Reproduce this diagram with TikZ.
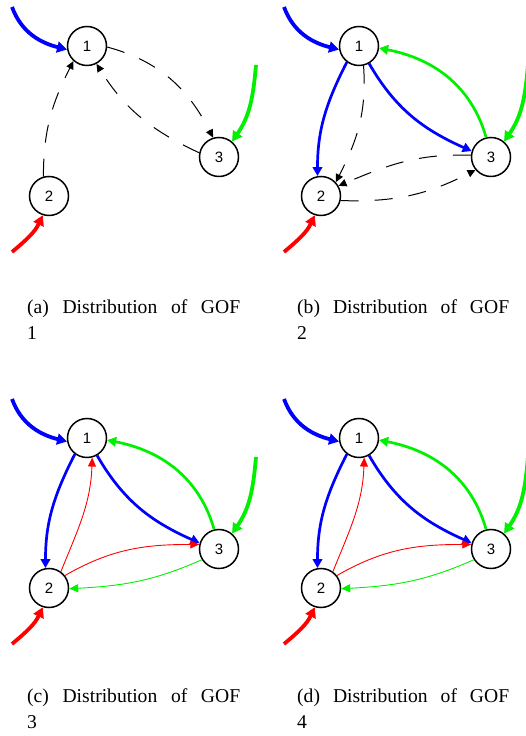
\documentclass[tikz,border=0pt]{standalone}
\usepackage{fontspec}
\setmainfont{Liberation Serif}
\newfontfamily\gofsans{Liberation Sans}
\usetikzlibrary{arrows.meta,calc}
\definecolor{gblue}{RGB}{0,0,255}
\definecolor{ggreen}{RGB}{0,240,0}
\definecolor{gred}{RGB}{255,0,0}
\tikzset{
  stnode/.style={circle, draw=black, line width=1.5pt, minimum size=39pt, inner sep=0pt,
    font=\gofsans\fontsize{15}{16}\selectfont},
  inarr/.style={line width=3.8pt, -{Triangle[length=10pt,width=11pt]}},
  thickarr/.style={line width=2.7pt, -{Triangle[length=9pt,width=9.5pt]}},
  thinarr/.style={line width=0.9pt, -{Triangle[length=9pt,width=8pt]}},
  dasharr/.style={line width=1pt, black, dash pattern=on 18pt off 16pt,
    -{Triangle[length=8pt,width=7.5pt]}},
  gofcap/.style={anchor=base west, inner sep=0pt, font=\fontsize{19.6}{24}\selectfont},
}
\newcommand\gofbase[3]{%
  \begin{scope}[shift={(#2,#3)}]
    \node[stnode] (#1n1) at (87,690) {1};
    \node[stnode] (#1n2) at (49,540) {2};
    \node[stnode] (#1n3) at (219,579) {3};
  \end{scope}
  \coordinate (#1bs) at ($(#1n1)+(-75,39)$);
  \coordinate (#1gs) at ($(#1n3)+(37,92)$);
  \coordinate (#1rs) at ($(#1n2)+(-37,-56)$);
  \draw[inarr, gblue] (#1bs) to[out=-70, in=166] (#1n1.190);
  \draw[inarr, ggreen] (#1gs) to[out=-95, in=55] (#1n3.50);
  \draw[inarr, gred] (#1rs) to[out=40, in=-115] (#1n2.252);
}
\newcommand\gofthick[1]{%
  \draw[thickarr, gblue] (#1n1.233) to[out=243, in=90] (#1n2.100);
  \draw[thickarr, gblue] (#1n1.300) to[out=-60, in=156] (#1n3.163);
  \draw[thickarr, ggreen] (#1n3.104) to[out=106, in=-11] (#1n1.-6);
}
\newcommand\gofthin[1]{%
  \draw[thinarr, gred] (#1n2.54) to[out=68, in=268] (#1n1.285);
  \draw[thinarr, gred] (#1n2.38) to[out=30, in=180] (#1n3.167);
  \draw[thinarr, ggreen] (#1n3.212) to[out=204, in=3] (#1n2.-2);
}
\begin{document}
\begin{tikzpicture}[x=1pt, y=1pt]
\useasboundingbox (0,0) rectangle (526,736);
% (a)
\gofbase{a}{0}{0}
\draw[dasharr] (an1.-3) to[out=-15, in=117] (an3.107);
\draw[dasharr] (an3.168) to[out=155, in=-58] (an1.298);
\draw[dasharr] (an2.106) to[out=90, in=243] (an1.228);
% (b)
\gofbase{b}{272}{0}
\gofthick{b}
\draw[dasharr] (bn1.283) to[out=-86, in=63] (bn2.43);
\draw[dasharr] (bn3.175) to[out=178, in=23] (bn2.30);
\draw[dasharr] (bn2.-13) to[out=-2, in=207] (bn3.220);
% (c)
\gofbase{c}{0}{-392}
\gofthick{c}
\gofthin{c}
% (d)
\gofbase{d}{272}{-392}
\gofthick{d}
\gofthin{d}
% captions
\node[gofcap] (capa) at (27,422) {\makebox[213pt][s]{(a) Distribution of GOF}};
\node[gofcap] (capa2) at (27,396) {1};
\node[gofcap] (capb) at (297,422) {\makebox[212pt][s]{(b) Distribution of GOF}};
\node[gofcap] (capb2) at (297,396) {2};
\node[gofcap] (capc) at (27,33) {\makebox[213pt][s]{(c) Distribution of GOF}};
\node[gofcap] (capc2) at (27,7) {3};
\node[gofcap] (capd) at (297,33) {\makebox[212pt][s]{(d) Distribution of GOF}};
\node[gofcap] (capd2) at (297,7) {4};
\end{tikzpicture}
\end{document}
